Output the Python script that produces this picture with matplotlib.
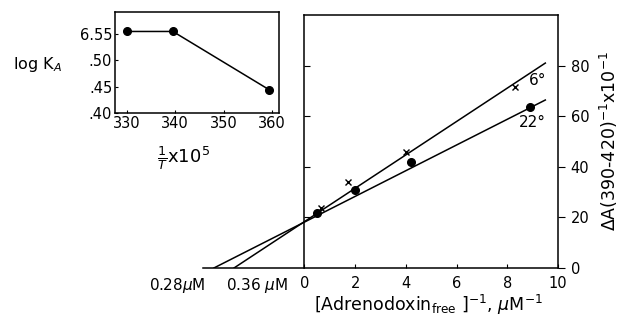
import numpy as np
import matplotlib
matplotlib.use("Agg")
from matplotlib import pyplot as plt

plt.rcParams['font.family'] = ['DejaVu Sans']
plt.rcParams['mathtext.fontset'] = 'dejavusans'

# inset: log K_A against 1/T x 10^5
inv_T = [330, 339.5, 359.5]
log_KA = [6.555, 6.555, 6.444]
inset_yticks = [6.40, 6.45, 6.50, 6.55]
inset_ylabels = ['.40', '.45', '.50', '6.55']
inset_xticks = [330, 340, 350, 360]

# double reciprocal plot
x_6 = [0.67, 1.7, 4.0, 8.3]
y_6 = [23.6, 34.0, 45.7, 71.7]
x_22 = [0.5, 2.0, 4.2, 8.9]
y_22 = [21.6, 30.7, 41.7, 63.5]
# fitted lines: start at x-intercept (-1/Kd), end at upper right
line6_x = [-1 / 0.36, 9.5]
line6_y = [0, 81]
line22_x = [-1 / 0.28, 9.5]
line22_y = [0, 66.4]

fig = plt.figure(figsize=(6.2, 3.25), dpi=100)

# ---- main plot
ax = fig.add_axes([203 / 620, 1 - 268 / 325, 355 / 620, 253 / 325])
ax.set_xlim(-4, 10)
ax.set_ylim(0, 100)
ax.plot(line6_x, line6_y, color='black', lw=1.1)
ax.plot(line22_x, line22_y, color='black', lw=1.1)
ax.plot(x_6, y_6, 'x', color='black', ms=4, mew=1.0)
ax.plot(x_22, y_22, 'o', color='black', ms=5.5)

ax.spines['left'].set_visible(False)
ax.spines['top'].set_bounds(0, 10)
ax.spines['bottom'].set_linewidth(1.1)
ax.spines['top'].set_linewidth(1.1)
ax.spines['right'].set_linewidth(1.1)

ax.set_xticks([0, 2, 4, 6, 8, 10])
ax.set_xticklabels(['0', '2', '4', '6', '8', '10'])
ax.tick_params(axis='x', direction='in', length=3, labelsize=10.5, pad=6)
ax.set_yticks([0, 20, 40, 60, 80])
ax.yaxis.tick_right()
ax.tick_params(axis='y', direction='out', length=5, labelsize=10.5, pad=4)

# left frame line at x = 0 with inward ticks
sec = ax.secondary_yaxis(4 / 14)
sec.set_yticks([20, 40, 60, 80])
sec.tick_params(direction='in', length=4, labelleft=False)
sec.spines['left'].set_linewidth(1.1)

ax.text(-5.0, -3, '0.28$\\mu$M', ha='center', va='top', fontsize=11, clip_on=False)
ax.text(-1.85, -3, '0.36 $\\mu$M', ha='center', va='top', fontsize=11, clip_on=False)
ax.text(9.2, 74, '6°', ha='center', va='center', fontsize=11)
ax.text(9.0, 57.5, '22°', ha='center', va='center', fontsize=11)

ax.yaxis.set_label_position('right')
ax.set_ylabel('$\\Delta$A(390-420)$^{-1}$x10$^{-1}$', fontsize=12.5, labelpad=6)
ax.set_xlabel('$\\left[\\mathrm{Adrenodoxin}_{\\mathrm{free}}\\ \\right]^{-1}$, $\\mu$M$^{-1}$', fontsize=12.5)
ax.xaxis.set_label_coords((428 - 203) / 355, -0.10)

# ---- inset
ins = fig.add_axes([115 / 620, 1 - 113 / 325, 164 / 620, 101 / 325])
ins.set_xlim(327.5, 361.5)
ins.set_ylim(6.40, 6.592)
ins.plot(inv_T, log_KA, '-o', color='black', lw=1.1, ms=5.5)
ins.set_xticks(inset_xticks)
ins.set_yticks(inset_yticks)
ins.set_yticklabels(inset_ylabels)
ins.tick_params(direction='in', length=2, labelsize=10.5, pad=2)
for s in ins.spines.values():
    s.set_linewidth(1.1)
ins.text(-0.47, 0.48, 'log K$_A$', transform=ins.transAxes, ha='center', va='center', fontsize=11.5)
ins.text(0.42, -0.45, '$\\frac{1}{T}$x10$^5$', transform=ins.transAxes, ha='center', va='center', fontsize=13)

fig.savefig('out.png', dpi=100)
